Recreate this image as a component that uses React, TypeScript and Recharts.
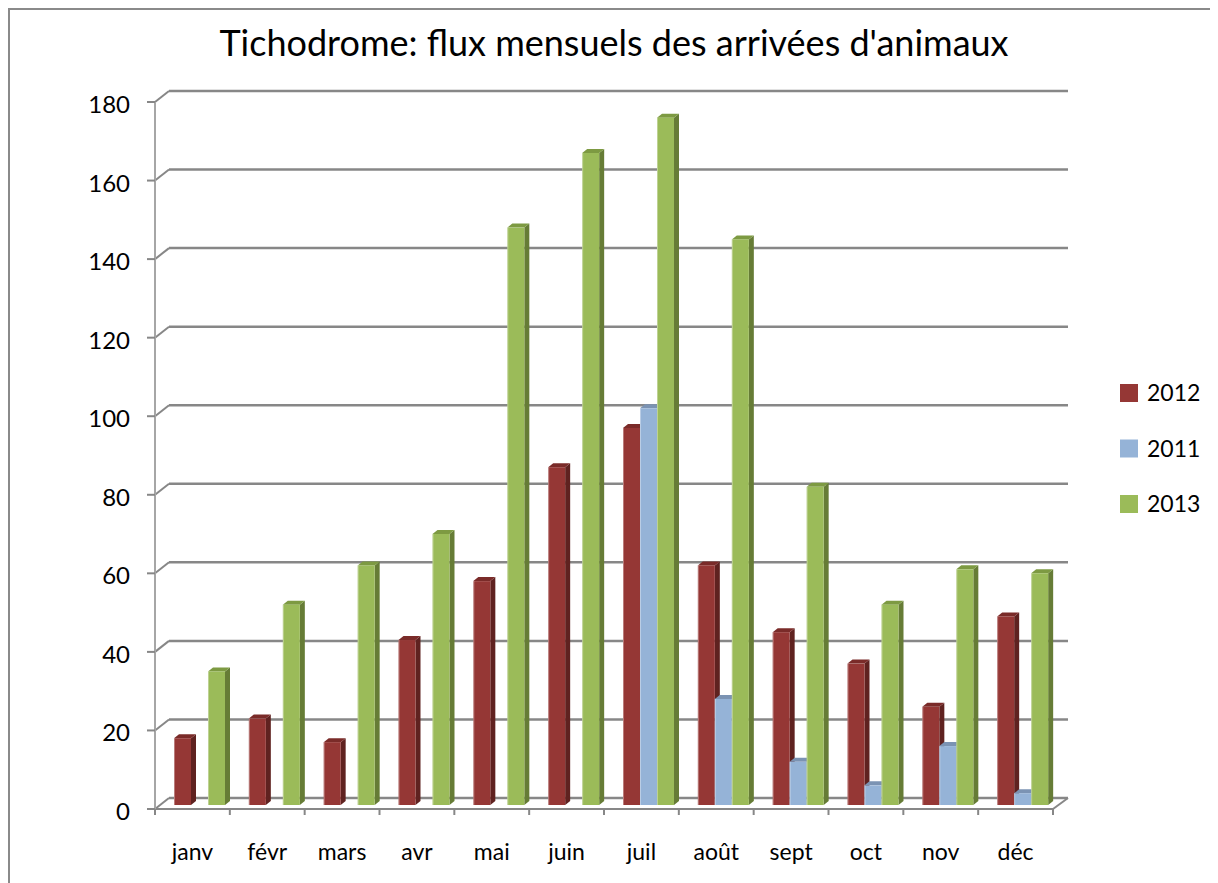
import { BarChart, Bar, XAxis, YAxis, CartesianGrid, Legend } from "recharts";

// monthly arrivals
const months = ["janv", "févr", "mars", "avr", "mai", "juin", "juil", "août", "sept", "oct", "nov", "déc"];
const seriesNames = ["2012", "2011", "2013"];
const arrivals2012 = [17, 22, 16, 42, 57, 86, 96, 61, 44, 36, 25, 48];
const arrivals2011 = [0, 0, 0, 0, 0, 0, 101, 27, 11, 5, 15, 3];
const arrivals2013 = [34, 51, 61, 69, 147, 166, 175, 144, 81, 51, 60, 59];
const yTicks = [0, 20, 40, 60, 80, 100, 120, 140, 160, 180];

const data = months.map((month, i) => ({
  month,
  y2012: arrivals2012[i],
  y2011: arrivals2011[i],
  y2013: arrivals2013[i],
}));

const W = 1208;
const H = 873;
const MARGIN = { top: 88, right: 165, bottom: 18, left: 85 };
const PLOT_LEFT = 145;
const PLOT_RIGHT = 1043;
const PLOT_TOP = 88;
const PLOT_BOTTOM = 795;
const FRONT = 4; // front edge of the floor sits a bit below the bar base
const BACK_DX = 14;
const BACK_DY = 11;
const SHIFT = 7; // perspective shift of bars inside each category
const FONT = "Lato, 'Open Sans', sans-serif";
const GRID = "#878787";

const colors = {
  y2012: { front: "#953735", side: "#5f2220", top: "#7a2b29" },
  y2011: { front: "#95b3d7", side: "#6d87a6", top: "#7b93b3" },
  y2013: { front: "#9bbb59", side: "#667c36", top: "#7d9a42" },
};

const makeBox = (c: { front: string; side: string; top: string }) => (props: any) => {
  const { x, y, width, height } = props;
  if (!height || height <= 0) return <g />;
  const X = x + SHIFT;
  const dx = 5;
  const dy = 4;
  return (
    <g>
      <polygon
        points={`${X + width},${y} ${X + width + dx},${y - dy} ${X + width + dx},${y + height - dy} ${X + width},${y + height}`}
        fill={c.side}
      />
      <polygon
        points={`${X},${y} ${X + dx},${y - dy} ${X + width + dx},${y - dy} ${X + width},${y}`}
        fill={c.top}
      />
      <rect x={X} y={y} width={width} height={height} fill={c.front} />
      <line x1={X + 0.5} x2={X + 0.5} y1={y} y2={y + height} stroke="#ffffff" strokeOpacity={0.35} />
    </g>
  );
};

const gridLine = (p: any) => {
  const { x1, x2, y1 } = p;
  const yf = y1 + FRONT;
  const yb = yf - BACK_DY;
  const isFloor = Math.abs(y1 - PLOT_BOTTOM) < 1;
  const isTop = Math.abs(y1 - PLOT_TOP) < 1;
  return (
    <g key={p.key}>
      <line x1={x1} y1={yf} x2={x1 + BACK_DX} y2={yb} stroke={GRID} strokeWidth={2} />
      <line x1={x1 + BACK_DX} y1={yb} x2={x2 + 15} y2={yb} stroke={GRID} strokeWidth={2.5} />
      {isFloor && (
        <>
          <line x1={x1} y1={yf} x2={x2} y2={yf} stroke={GRID} strokeWidth={2} />
          <line x1={x2} y1={yf} x2={x2 + 15} y2={yb} stroke={GRID} strokeWidth={2} />
        </>
      )}
      {isTop && (
        <line x1={x1} y1={yf} x2={x1} y2={PLOT_BOTTOM + FRONT} stroke="#a6a6a6" strokeWidth={2} />
      )}
    </g>
  );
};

const YTick = (props: any) => {
  const { y, payload } = props;
  const yf = y + FRONT;
  return (
    <g>
      <line x1={PLOT_LEFT - 8} x2={PLOT_LEFT} y1={yf} y2={yf} stroke={GRID} strokeWidth={2} />
      <text x={PLOT_LEFT - 25} y={yf + 11} textAnchor="end" fontSize={24} fontFamily={FONT} fill="#000">
        {payload.value}
      </text>
    </g>
  );
};

const XTick = (props: any) => {
  const { x, payload, index } = props;
  const bw = (PLOT_RIGHT - PLOT_LEFT) / months.length;
  const yf = PLOT_BOTTOM + FRONT;
  return (
    <g>
      <line x1={x - bw / 2} x2={x - bw / 2} y1={yf} y2={yf + 6} stroke={GRID} strokeWidth={2} />
      {index === months.length - 1 && (
        <line x1={x + bw / 2} x2={x + bw / 2} y1={yf} y2={yf + 6} stroke={GRID} strokeWidth={2} />
      )}
      <text x={x} y={PLOT_BOTTOM + 55} textAnchor="middle" fontSize={23} fontFamily={FONT} fill="#000">
        {payload.value}
      </text>
    </g>
  );
};

const renderLegend = (props: any) => {
  const payload = [...(props.payload || [])].sort(
    (a: any, b: any) => seriesNames.indexOf(String(a.value)) - seriesNames.indexOf(String(b.value))
  );
  return (
    <svg width={110} height={160} style={{ display: "block" }}>
      {payload.map((e: any, i: number) => (
        <g key={e.value}>
          <rect x={20} y={14 + i * 55.5} width={18} height={18} fill={e.color} />
          <text x={47} y={31 + i * 55.5} fontSize={23} fontFamily={FONT} fill="#000">
            {e.value}
          </text>
        </g>
      ))}
    </svg>
  );
};

export default function App() {
  return (
    <div
      style={{
        position: "relative",
        width: W,
        height: H,
        borderLeft: "2px solid #8a8a8a",
        borderTop: "2px solid #8a8a8a",
        background: "#fff",
      }}
    >
      <div
        style={{
          position: "absolute",
          left: 0,
          top: 14,
          width: W,
          textAlign: "center",
          fontFamily: FONT,
          fontSize: 36,
          lineHeight: "36px",
          color: "#000",
          zIndex: 1,
        }}
      >
        Tichodrome: flux mensuels des arrivées d'animaux
      </div>
      <BarChart width={W} height={H} data={data} margin={MARGIN} barSize={17} barGap={0}>
        <CartesianGrid vertical={false} horizontal={gridLine} />
        <XAxis
          dataKey="month"
          interval={0}
          height={60}
          axisLine={false}
          tickLine={false}
          tick={<XTick />}
        />
        <YAxis
          width={60}
          domain={[0, 180]}
          ticks={yTicks}
          interval={0}
          axisLine={false}
          tickLine={false}
          tick={<YTick />}
        />
        <Legend
          layout="horizontal"
          align="center"
          verticalAlign="middle"
          content={renderLegend}
          wrapperStyle={{ left: 1090, top: 360, width: 110, height: 160 }}
        />
        <Bar dataKey="y2012" name="2012" fill={colors.y2012.front} shape={makeBox(colors.y2012)} isAnimationActive={false} />
        <Bar dataKey="y2011" name="2011" fill={colors.y2011.front} shape={makeBox(colors.y2011)} isAnimationActive={false} />
        <Bar dataKey="y2013" name="2013" fill={colors.y2013.front} shape={makeBox(colors.y2013)} isAnimationActive={false} />
      </BarChart>
    </div>
  );
}
